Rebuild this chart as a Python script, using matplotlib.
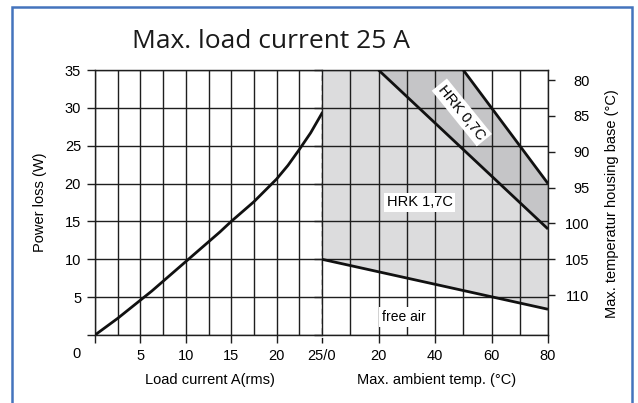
import numpy as np
import matplotlib.pyplot as plt
from matplotlib.patches import Rectangle

plt.rcParams['font.family'] = ['Liberation Sans', 'DejaVu Sans']

# --- data ---
load_a = [0, 1.25, 2.5, 3.75, 5, 6.25, 7.5, 8.75, 10, 11.25, 12.5, 13.75,
          15, 16.25, 17.5, 18.75, 20, 21.25, 22.5, 23.75, 25]
loss_w = [0, 1.1, 2.2, 3.4, 4.6, 5.8, 7.1, 8.4, 9.7, 11.0, 12.3, 13.6,
          15.0, 16.3, 17.6, 19.1, 20.6, 22.4, 24.5, 26.7, 29.3]

free_air_t = [0, 80]
free_air_w = [10, 3.4]
hrk17_t = [20, 80]
hrk17_w = [35, 14]
hrk07_t = [50, 80]
hrk07_w = [35, 20]

loss_ticks = [0, 5, 10, 15, 20, 25, 30, 35]
current_ticks = [0, 5, 10, 15, 20, 25]
current_labels = ['', '5', '10', '15', '20', '25/0']
temp_ticks = [0, 20, 40, 60, 80]
temp_labels = ['', '20', '40', '60', '80']
housing_ticks = [80, 85, 90, 95, 100, 105, 110]

W, H = 638, 403
fig = plt.figure(figsize=(W / 100, H / 100), dpi=100)


def fx(px):
    return px / W


def fy(py):
    return 1 - py / H


x0, x_mid, x1 = 95, 322, 548
y_top, y_bot = 70, 335
axl = fig.add_axes([fx(x0), fy(y_bot), fx(x_mid) - fx(x0), fy(y_top) - fy(y_bot)])
axr = fig.add_axes([fx(x_mid), fy(y_bot), fx(x1) - fx(x_mid), fy(y_top) - fy(y_bot)])

gcol = '#1e1e1e'
fs = 10.5

for ax in (axl, axr):
    ax.set_ylim(0, 35)
    ax.set_axisbelow(True)
    ax.set_yticks(loss_ticks)
    ax.grid(True, which='both', color=gcol, lw=1.0)
    for s in ax.spines.values():
        s.set_color(gcol)
        s.set_linewidth(1.0)
    ax.tick_params(which='major', direction='out', length=6, width=1.0, color=gcol,
                   labelsize=fs, pad=4)
    ax.tick_params(which='minor', length=0)

# left half : power loss vs load current
axl.set_xlim(0, 25)
axl.set_xticks(current_ticks)
axl.set_xticklabels(current_labels)
axl.set_xticks(np.arange(0, 25.1, 2.5), minor=True)
axl.set_yticklabels([''] + [str(v) for v in loss_ticks[1:]])
axl.spines['right'].set_visible(False)
axl.get_xticklines()[-2].set_visible(False)
axl.plot(load_a, loss_w, color='#111111', lw=2.0, zorder=3)
axl.plot([25, 25], [-1.0, 35], color='#111111', lw=1.0, ls=(0, (4, 3)),
         clip_on=False, zorder=4)
axl.text(-2.0, -1.6, '0', ha='center', va='top', fontsize=fs)

# right half : derating vs ambient temperature
axr.set_xlim(0, 80)
axr.set_xticks(temp_ticks)
axr.set_xticklabels(temp_labels)
axr.get_xticklines()[0].set_visible(False)
axr.set_xticks(np.arange(0, 80.1, 10), minor=True)
axr.spines['left'].set_visible(False)
axr.tick_params(axis='y', left=False, labelleft=False)

axr.fill_between(free_air_t, free_air_w, 35, color='#dcdcdd', lw=0, zorder=0.2)
axr.fill(hrk17_t + hrk07_t[::-1], hrk17_w + hrk07_w[::-1], color='#c5c5c7', lw=0, zorder=0.3)
axr.fill(hrk07_t + [80], hrk07_w + [35], color='white', lw=0, zorder=0.3)

for t, w in ((free_air_t, free_air_w), (hrk17_t, hrk17_w), (hrk07_t, hrk07_w)):
    axr.plot(t, w, color='#111111', lw=2.0, zorder=3, solid_capstyle='butt')

box = dict(facecolor='white', edgecolor='none', pad=2.0)
axr.text(49.5, 29.4, 'HRK 0,7C', rotation=-51, ha='center', va='center',
         fontsize=fs, bbox=box, zorder=5)
axr.text(34.5, 17.5, 'HRK 1,7C', ha='center', va='center', fontsize=fs, bbox=box, zorder=5)
axr.text(29, 2.4, 'free air', ha='center', va='center', fontsize=10, bbox=box, zorder=5)

# housing base temperature scale on the right
axt = axr.twinx()
axt.set_ylim(115.55, 78.6)
axt.set_yticks(housing_ticks)
axt.tick_params(axis='y', direction='out', length=5, width=1.0, color=gcol,
                labelsize=fs, pad=25)
for lab in axt.get_yticklabels():
    lab.set_horizontalalignment('right')
for s in axt.spines.values():
    s.set_visible(False)

# labels and title
fig.text(fx(40), fy(202), 'Power loss (W)', rotation=90, ha='center', va='center', fontsize=fs)
fig.text(fx(210), fy(380), 'Load current A(rms)', ha='center', va='center', fontsize=fs)
fig.text(fx(437), fy(380), 'Max. ambient temp. (°C)', ha='center', va='center', fontsize=fs)
fig.text(fx(612), fy(204), 'Max. temperatur housing base (°C)', rotation=90,
         ha='center', va='center', fontsize=fs)
fig.text(fx(271), fy(48), 'Max. load current 25 A', ha='center', va='baseline',
         fontsize=19, family=['Open Sans', 'DejaVu Sans'], color='#1a1a1a')

# blue frame
fig.patches.append(Rectangle((fx(12), -0.05), fx(632) - fx(12), fy(7) + 0.05,
                             transform=fig.transFigure, fill=False,
                             edgecolor='#4474bd', lw=1.8))

fig.savefig('out.png', dpi=100)
